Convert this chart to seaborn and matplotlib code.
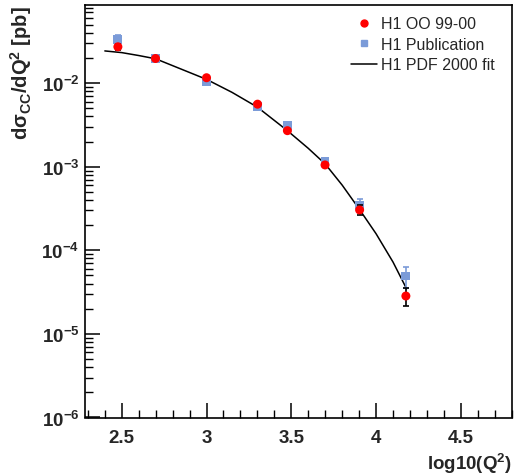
import numpy as np
import pandas as pd
import matplotlib
matplotlib.use("Agg")
import matplotlib.pyplot as plt
import seaborn as sns
from matplotlib.ticker import LogLocator, MultipleLocator, FixedLocator, FixedFormatter
from matplotlib.lines import Line2D

# ---------------- data ----------------
log_q2 = [2.477, 2.699, 3.000, 3.301, 3.477, 3.699, 3.903, 4.176]
oo_xsec = [0.0272, 0.0197, 0.0116, 0.0056, 0.00270, 0.00105, 0.000304, 2.84e-5]
oo_err = [0.0020, 0.0008, 0.0004, 0.0002, 0.00011, 0.00005, 0.000041, 6.8e-6]
pub_xsec = [0.0333, 0.0197, 0.0105, 0.00525, 0.0031, 0.00116, 0.000349, 4.92e-5]
pub_err = [0.0047, 0.0009, 0.0005, 0.00025, 0.00014, 0.00006, 0.000060, 1.4e-5]

fit_x = [2.40, 2.50, 2.60, 2.70, 3.00, 3.15, 3.30, 3.477, 3.60, 3.70, 3.80, 3.90, 4.00, 4.10, 4.18]
fit_y = [0.02427, 0.02317, 0.02138, 0.01954, 0.01109, 0.00776, 0.00516, 0.00270,
         0.00166, 0.001079, 0.000603, 0.000313, 0.000158, 7.24e-5, 3.47e-5]

x_ticks = [2.5, 3.0, 3.5, 4.0, 4.5]
x_tick_labels = ["2.5", "3", "3.5", "4", "4.5"]
legend_labels = ["H1 OO 99-00", "H1 Publication", "H1 PDF 2000 fit"]

# ---------------- style ----------------
sns.set_theme(style="white")
plt.rcParams["font.family"] = ["Liberation Sans", "DejaVu Sans"]
plt.rcParams["mathtext.fontset"] = "custom"
plt.rcParams["mathtext.rm"] = "Liberation Sans:bold"
plt.rcParams["mathtext.it"] = "Liberation Sans:bold"
plt.rcParams["mathtext.bf"] = "Liberation Sans:bold"
plt.rcParams["mathtext.default"] = "rm"

fig = plt.figure(figsize=(5.15, 4.77), dpi=100)
fig.patch.set_facecolor("white")
ax = fig.add_axes([85 / 515, 1 - 418.5 / 477, (512 - 85) / 515, (418.5 - 6) / 477])
ax.set_facecolor("white")

red = "#ff0000"
blue = "#7b9bd8"

df_oo = pd.DataFrame({"x": log_q2, "y": oo_xsec, "e": oo_err})
df_pub = pd.DataFrame({"x": log_q2, "y": pub_xsec, "e": pub_err})
df_fit = pd.DataFrame({"x": fit_x, "y": fit_y})

# fit line
sns.lineplot(data=df_fit, x="x", y="y", ax=ax, color="black", linewidth=1.1,
             zorder=2, legend=False)

# publication (blue squares)
ax.errorbar(df_pub["x"], df_pub["y"], yerr=df_pub["e"], fmt="none", ecolor=blue,
            elinewidth=1.2, capsize=2, capthick=1.2, zorder=3)
sns.scatterplot(data=df_pub, x="x", y="y", ax=ax, marker="s", s=40, color=blue,
                edgecolor="none", zorder=4, legend=False)

# OO (red circles)
ax.errorbar(df_oo["x"], df_oo["y"], yerr=df_oo["e"], fmt="none", ecolor="black",
            elinewidth=1.2, capsize=2, capthick=1.2, zorder=5)
sns.scatterplot(data=df_oo, x="x", y="y", ax=ax, marker="o", s=42, color=red,
                edgecolor="none", zorder=6, legend=False)

ax.set_yscale("log")
ax.set_xlim(2.283, 4.802)
ax.set_ylim(1e-6, 0.086)

# ticks
ax.xaxis.set_major_locator(FixedLocator(x_ticks))
ax.xaxis.set_major_formatter(FixedFormatter(x_tick_labels))
ax.xaxis.set_minor_locator(MultipleLocator(0.1))
ax.yaxis.set_major_locator(LogLocator(base=10, numticks=20))
ax.yaxis.set_minor_locator(LogLocator(base=10, subs=np.arange(2, 10), numticks=20))
ax.tick_params(axis="both", which="major", direction="in", length=11, width=1.1,
               labelsize=13.5, top=False, right=False, bottom=True, left=True,
               color="black")
ax.tick_params(axis="both", which="minor", direction="in", length=5.5, width=1.0,
               top=False, right=False, bottom=True, left=True, color="black")
ax.tick_params(axis="x", which="major", pad=8)
ax.tick_params(axis="y", which="major", pad=4)
for lab in ax.get_xticklabels() + ax.get_yticklabels():
    lab.set_fontweight("bold")

for sp in ax.spines.values():
    sp.set_visible(True)
    sp.set_color("black")
    sp.set_linewidth(1.2)

ax.set_xlabel("log10(Q$^{2}$)", fontsize=13.5, fontweight="bold", ha="right")
ax.xaxis.set_label_coords(1.0, -0.08)
ax.set_ylabel("d\u03c3$_{CC}$/dQ$^{2}$ [pb]", fontsize=14.5, fontweight="bold", ha="right")
ax.yaxis.set_label_coords(-0.12, 1.0)

# legend
handles = [
    Line2D([], [], marker="o", color=red, linestyle="none", markersize=5),
    Line2D([], [], marker="s", color=blue, linestyle="none", markersize=5),
    Line2D([], [], color="black", linewidth=1.1),
]
leg = ax.legend(handles, legend_labels, loc="upper right", bbox_to_anchor=(0.985, 1.0),
                frameon=False, fontsize=11.5, handlelength=1.6, handletextpad=0.25,
                labelspacing=0.35, borderaxespad=0.3)

fig.savefig("out.png", dpi=100, facecolor="white")
